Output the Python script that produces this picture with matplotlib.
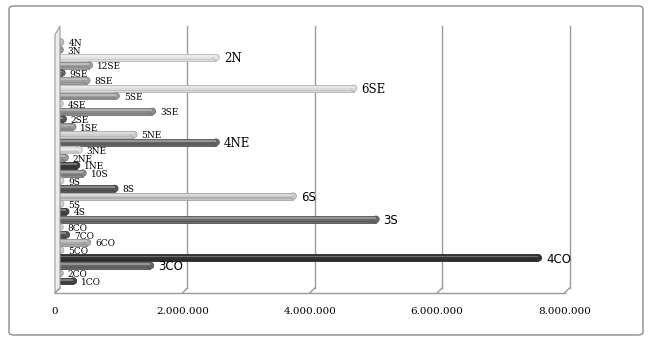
import matplotlib.pyplot as plt
import matplotlib.transforms as mtransforms
from matplotlib.patches import Polygon, FancyBboxPatch
import numpy as np

# categories top to bottom
labels = ['4N', '3N', '2N', '12SE', '9SE', '8SE', '6SE', '5SE', '4SE', '3SE',
          '2SE', '1SE', '5NE', '4NE', '3NE', '2NE', '1NE', '10S', '9S', '8S',
          '6S', '5S', '4S', '3S', '8CO', '7CO', '6CO', '5CO', '4CO', '3CO',
          '2CO', '1CO']
values = [50000, 40000, 2490000, 500000, 70000, 460000, 4650000, 920000,
          40000, 1490000, 90000, 240000, 1200000, 2490000, 340000, 120000,
          300000, 400000, 50000, 900000, 3700000, 50000, 130000, 5000000,
          40000, 140000, 470000, 50000, 7550000, 1460000, 40000, 250000]
shades = ['#bdbdbd', '#9a9a9a', '#e2e2e2', '#a0a0a0', '#666666', '#a2a2a2',
          '#dcdcdc', '#9c9c9c', '#d0d0d0', '#8c8c8c', '#555555', '#9a9a9a',
          '#cccccc', '#676767', '#e0e0e0', '#999999', '#3a3a3a', '#8a8a8a',
          '#d6d6d6', '#555555', '#c8c8c8', '#d0d0d0', '#444444', '#686868',
          '#d0d0d0', '#555555', '#ababab', '#cccccc', '#333333', '#666666',
          '#bbbbbb', '#444444']
big_serif = ['2N', '6SE', '4NE']
big_sans = ['6S', '3S', '4CO', '3CO']
xticks = [0, 2000000, 4000000, 6000000, 8000000]
xticklabels = ['0', '2.000.000', '4.000.000', '6.000.000', '8.000.000']

W, H = 651, 340
fig = plt.figure(figsize=(W / 100, H / 100), dpi=100)

# axes placed in pixels: left 57.5, right 567, top 31, bottom 293
ax = fig.add_axes([57.5 / W, 1 - 293 / H, (567 - 57.5) / W, (293 - 31) / H])
ax.set_xlim(0, 8000000)
n = len(labels)
ypos = np.arange(n)
ax.set_ylim(n - 1 + 1.56, -1.43)
ax.axis('off')


def shift(tr, dx, dy=0):
    return mtransforms.offset_copy(tr, fig=fig, x=dx, y=dy, units='dots')


blend = mtransforms.blended_transform_factory(ax.transData, ax.transAxes)
back = shift(blend, 2.5, 5)
front = shift(blend, -2.5, 0)
gcol = '#9a9a9a'

# left wall
lw_pts_back = back.transform([(0, 1.0), (0, 0)])
lw_pts_front = front.transform([(0, 0), (0, 0.985)])
wall = Polygon(np.vstack([lw_pts_back, lw_pts_front]), closed=True,
               transform=None, facecolor='#ececec', edgecolor=gcol, lw=0.8,
               zorder=1)
fig.add_artist(wall)

# back gridlines
for v in xticks[1:]:
    ax.plot([v, v], [0, 1.0], color=gcol, lw=1, transform=back, zorder=1,
            clip_on=False)
# floor slants and front edge
for v in xticks:
    p0 = back.transform((v, 0))
    p1 = front.transform((v, 0))
    fig.add_artist(plt.Line2D([p0[0], p1[0]], [p0[1], p1[1]], color=gcol,
                              lw=1, transform=None))
ax.plot([0, 8000000], [0, 0], color=gcol, lw=1, transform=front,
        clip_on=False)


def lighten(c, f):
    rgb = np.array(plt.matplotlib.colors.to_rgb(c))
    return tuple(rgb + (1 - rgb) * f)


def darken(c, f):
    rgb = np.array(plt.matplotlib.colors.to_rgb(c))
    return tuple(rgb * (1 - f))


edge = [darken(c, 0.18) for c in shades]
ax.barh(ypos, values, height=0.9, color=shades, edgecolor=edge, lw=0.6,
        zorder=3)
ax.barh(ypos - 0.17, values, height=0.24,
        color=[lighten(c, 0.3) for c in shades], lw=0, zorder=4)
ax.barh(ypos + 0.27, values, height=0.22,
        color=[darken(c, 0.12) for c in shades], lw=0, zorder=4)
ax.scatter(values, ypos, s=22, marker='o', c=shades, edgecolors=edge,
           linewidths=0.6, zorder=3.5)

for y, v, lab in zip(ypos, values, labels):
    if lab in big_serif:
        kw = dict(fontsize=8.5, family='DejaVu Serif')
    elif lab in big_sans:
        kw = dict(fontsize=8.5, family='DejaVu Sans')
    else:
        kw = dict(fontsize=6.5, family='DejaVu Serif')
    ax.annotate(lab, (v, y), xytext=(5.5, -1), textcoords='offset points',
                ha='left', va='center', color='black', zorder=5, **kw)

for v, t in zip(xticks, xticklabels):
    ax.text(v, 0, t, transform=shift(blend, -2.5, -18), ha='center',
            va='center', fontsize=7.5, family='DejaVu Serif', color='black')

frame = FancyBboxPatch((9 / W, 1 - 335 / H), (643 - 9) / W, (335 - 6) / H,
                       boxstyle='round,pad=0,rounding_size=0.008',
                       transform=fig.transFigure, facecolor='none',
                       edgecolor='#8c8c8c', lw=1)
fig.add_artist(frame)

fig.savefig('out.png', dpi=100)
